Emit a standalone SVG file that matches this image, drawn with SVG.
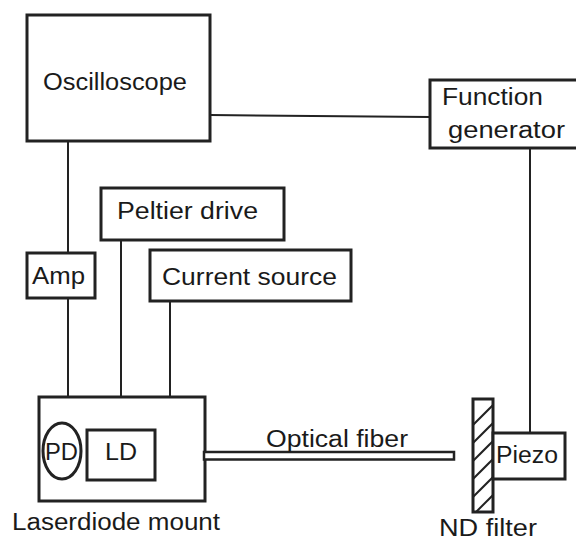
<svg xmlns="http://www.w3.org/2000/svg" width="576" height="540" viewBox="0 0 576 540">
<style>
.box{fill:#fff;stroke:#222;stroke-width:3}
.ln{fill:none;stroke:#222;stroke-width:2}
.t{font-family:"Liberation Sans",Arial,sans-serif;font-size:23px;fill:#1a1a1a}
</style>
<defs>
<clipPath id="ndclip"><rect x="473" y="399" width="20" height="113"/></clipPath>
</defs>
<rect width="576" height="540" fill="#fff"/>
<g id="connectors">
<line class="ln" x1="68" y1="141" x2="68" y2="253"/>
<line class="ln" x1="68" y1="298" x2="68" y2="397"/>
<line class="ln" x1="121" y1="240" x2="121" y2="397"/>
<line class="ln" x1="170" y1="301" x2="170" y2="397"/>
<line class="ln" x1="210" y1="115" x2="430" y2="117"/>
<line class="ln" x1="530" y1="148" x2="530" y2="433"/>
</g>
<g id="oscilloscope">
<rect class="box" x="27" y="15" width="183" height="126"/>
<text class="t" x="43" y="90" textLength="144" lengthAdjust="spacingAndGlyphs">Oscilloscope</text>
</g>
<g id="function-generator">
<rect class="box" x="430" y="80" width="150" height="68"/>
<text class="t" x="442" y="105" textLength="101" lengthAdjust="spacingAndGlyphs">Function</text>
<text class="t" x="448" y="138" textLength="117" lengthAdjust="spacingAndGlyphs">generator</text>
</g>
<g id="peltier-drive">
<rect class="box" x="101" y="188" width="183" height="52"/>
<text class="t" x="117" y="219" textLength="141" lengthAdjust="spacingAndGlyphs">Peltier drive</text>
</g>
<g id="amp">
<rect class="box" x="27" y="253" width="68" height="45"/>
<text class="t" x="32" y="284" textLength="53" lengthAdjust="spacingAndGlyphs">Amp</text>
</g>
<g id="current-source">
<rect class="box" x="150" y="250" width="201" height="51"/>
<text class="t" x="162" y="285" textLength="175" lengthAdjust="spacingAndGlyphs">Current source</text>
</g>
<g id="laserdiode-mount">
<rect class="box" x="39" y="397" width="166" height="104"/>
<ellipse class="box" cx="62" cy="451" rx="19" ry="28"/>
<text class="t" x="45" y="460" textLength="33" lengthAdjust="spacingAndGlyphs">PD</text>
<rect class="box" x="87" y="430" width="68" height="50"/>
<text class="t" x="105" y="460" textLength="32" lengthAdjust="spacingAndGlyphs">LD</text>
<text class="t" x="12" y="530" textLength="208" lengthAdjust="spacingAndGlyphs">Laserdiode mount</text>
</g>
<g id="optical-fiber">
<rect x="204" y="452" width="250" height="7.5" fill="#fff" stroke="#222" stroke-width="2.5"/>
<text class="t" x="266" y="447" textLength="142" lengthAdjust="spacingAndGlyphs">Optical fiber</text>
</g>
<g id="nd-filter">
<rect class="box" x="473" y="399" width="20" height="113"/>
<g clip-path="url(#ndclip)" stroke="#222" stroke-width="2">
<line x1="473" y1="425" x2="493" y2="405"/>
<line x1="473" y1="443" x2="493" y2="423"/>
<line x1="473" y1="461" x2="493" y2="441"/>
<line x1="473" y1="479" x2="493" y2="459"/>
<line x1="473" y1="497" x2="493" y2="477"/>
<line x1="473" y1="515" x2="493" y2="495"/>
</g>
<text class="t" x="439" y="536" textLength="98" lengthAdjust="spacingAndGlyphs">ND filter</text>
</g>
<g id="piezo">
<rect class="box" x="493" y="433" width="72" height="46"/>
<text class="t" x="496" y="463" textLength="62" lengthAdjust="spacingAndGlyphs">Piezo</text>
</g>
</svg>
